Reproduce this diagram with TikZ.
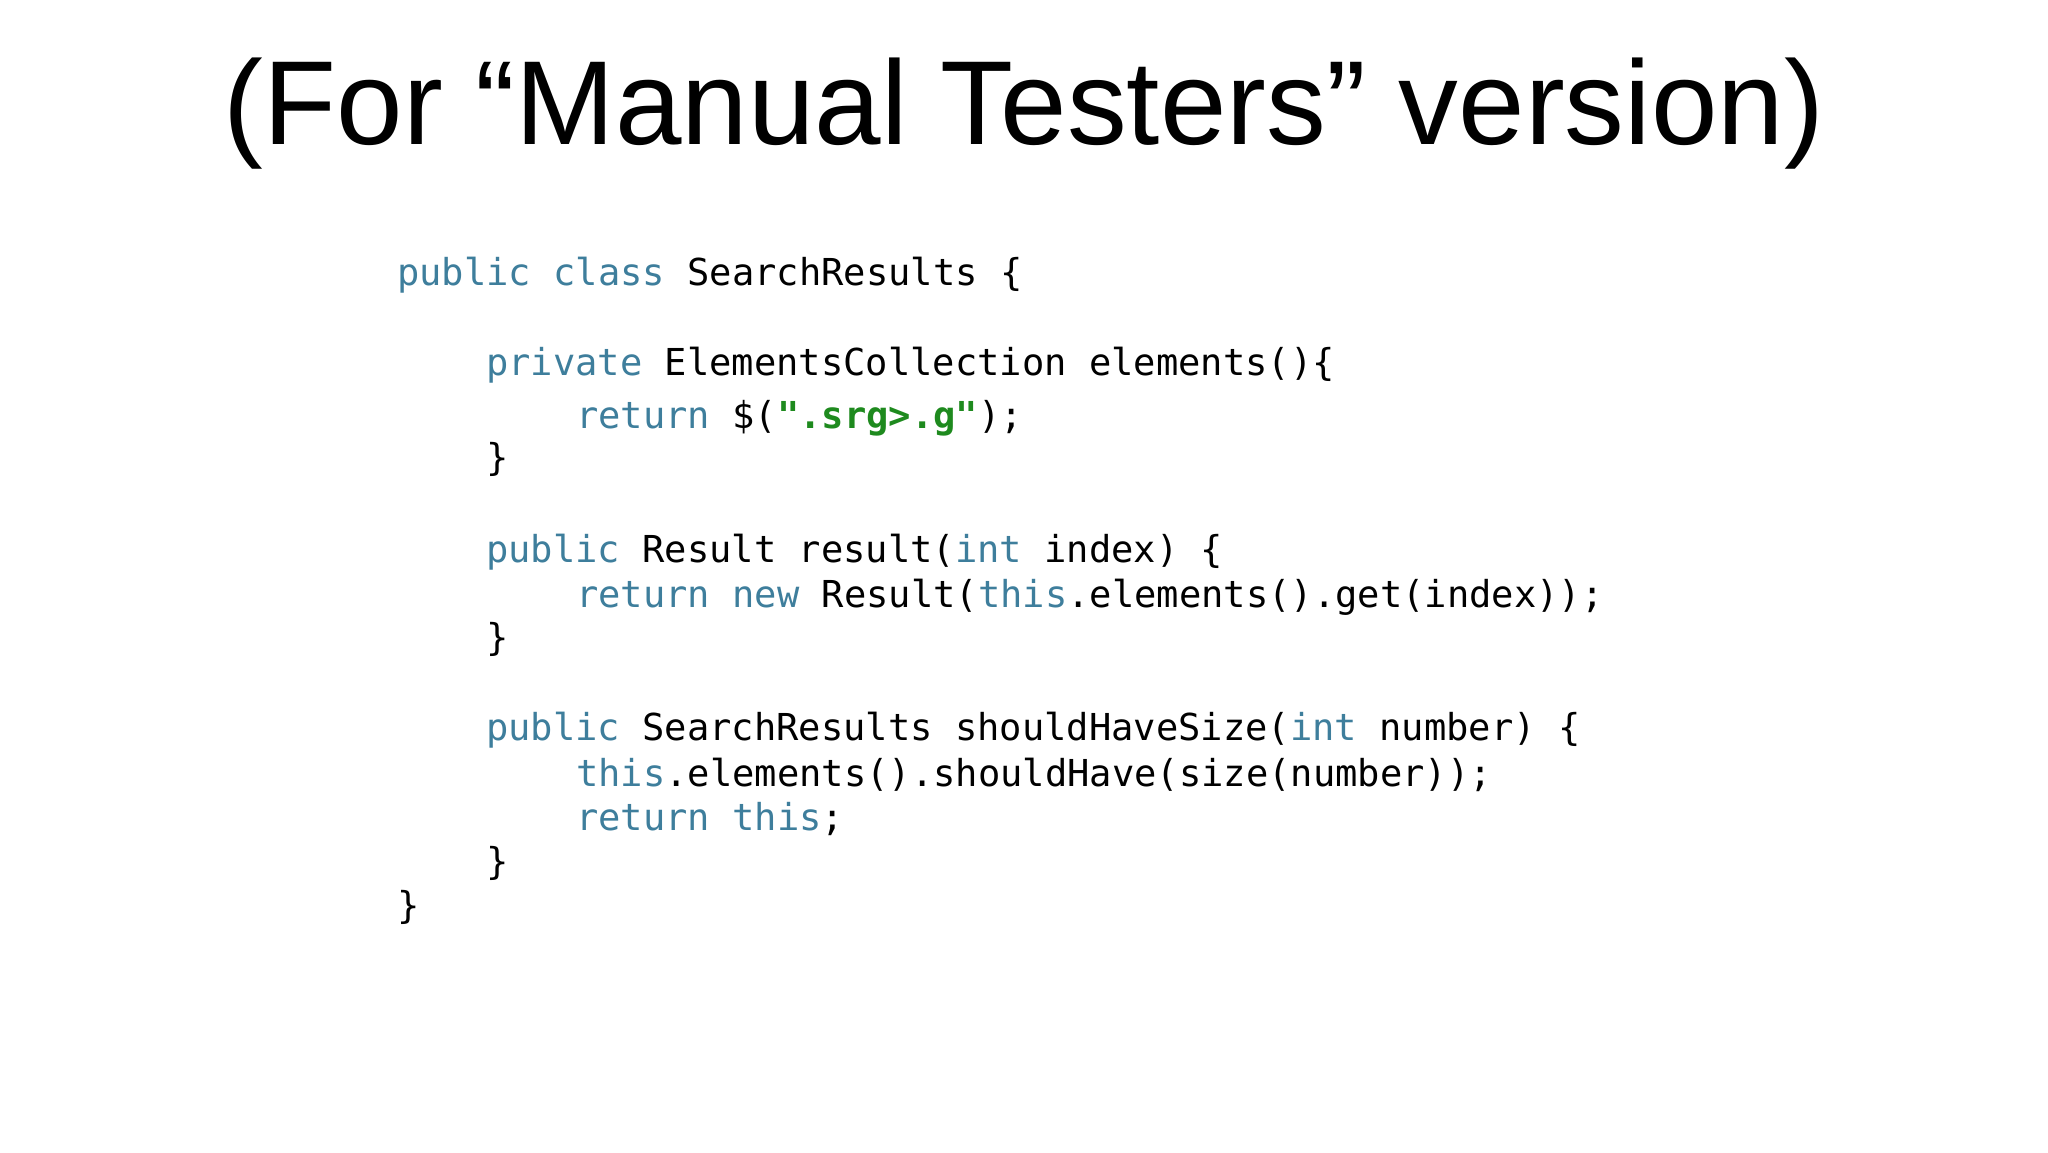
\documentclass[tikz,border=0pt]{standalone}
\usepackage{fontspec}
\setmainfont{Liberation Sans}
\newfontfamily\codefont{DejaVu Sans Mono}
\definecolor{kw}{HTML}{3E7E9C}
\definecolor{str}{HTML}{1E8A1E}
\begin{document}
\begin{tikzpicture}[x=1pt,y=1pt,
  code/.style={anchor=base west,inner sep=0pt,font=\codefont\fontsize{37.1}{42}\selectfont}]
\useasboundingbox[fill=white] (0,0) rectangle (2048,-1152);
\node[anchor=base,inner sep=0pt,font=\fontsize{119.5}{130}\selectfont] (title) at (1024,-144) {(For “Manual Testers” version)};
\newcommand{\kk}[1]{\textcolor{kw}{#1}}
\node[code] (l1) at (397,-285) {\kk{public class} SearchResults \{};
\node[code] (l2) at (486,-375) {\kk{private} ElementsCollection elements()\{};
\node[code] (l3) at (576,-428) {\kk{return} \$(\textcolor{str}{\bfseries".srg>.g"});};
\node[code] (l4) at (486,-470) {\}};
\node[code] (l5) at (486,-562) {\kk{public} Result result(\kk{int} index) \{};
\node[code] (l6) at (576,-607) {\kk{return new} Result(\kk{this}.elements().get(index));};
\node[code] (l7) at (486,-650) {\}};
\node[code] (l8) at (486,-740) {\kk{public} SearchResults shouldHaveSize(\kk{int} number) \{};
\node[code] (l9) at (576,-786) {\kk{this}.elements().shouldHave(size(number));};
\node[code] (l10) at (576,-830) {\kk{return this};};
\node[code] (l11) at (486,-874) {\}};
\node[code] (l12) at (397,-918) {\}};
\end{tikzpicture}
\end{document}
